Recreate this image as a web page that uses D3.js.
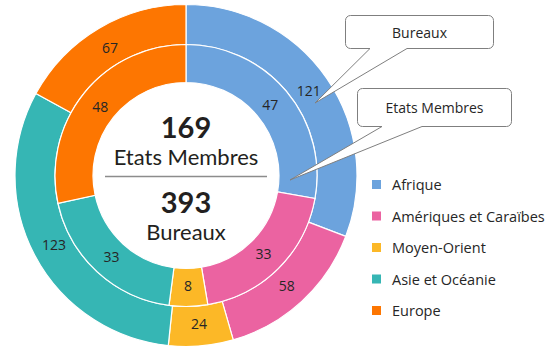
<!DOCTYPE html>
<html>
<head>
<meta charset="utf-8">
<script src="https://cdn.jsdelivr.net/npm/d3@7"></script>
<style>
  html, body { margin: 0; padding: 0; background: #fff; }
  svg { display: block; }
</style>
</head>
<body>
<svg id="chart" width="557" height="347"></svg>
<script>
// Regions, in drawing order (clockwise from 12 o'clock)
const regions = ["Afrique", "Amériques et Caraïbes", "Moyen-Orient", "Asie et Océanie", "Europe"];
const regionColors = ["#6ca3dd", "#eb63a1", "#fcb827", "#36b6b4", "#fd7601"];
// Inner ring: member states per region
const etatsMembres = [47, 33, 8, 33, 48];
// Outer ring: offices per region
const bureaux = [121, 58, 24, 123, 67];
// Centre captions
const centreLabels = ["Etats Membres", "Bureaux"];

const svg = d3.select("#chart");
const cx = 186, cy = 175.5;
const rHole = 93, rMid = 131, rOuter = 171;

const color = d3.scaleOrdinal().domain(regions).range(regionColors);
const pie = d3.pie().sort(null).value(d => d.value);

function ring(values, r0, r1, cls) {
  const data = regions.map((name, i) => ({ name, value: values[i] }));
  const arcs = pie(data);
  const arc = d3.arc().innerRadius(r0).outerRadius(r1);
  const g = svg.append("g").attr("class", cls).attr("transform", `translate(${cx},${cy})`);
  g.selectAll("path").data(arcs).join("path")
    .attr("d", arc)
    .attr("fill", d => color(d.data.name))
    .attr("stroke", "#fff")
    .attr("stroke-width", 1.2);
  const labelArc = d3.arc().innerRadius((r0 + r1) / 2 - 2).outerRadius((r0 + r1) / 2 - 2);
  g.selectAll("text").data(arcs).join("text")
    .attr("transform", d => `translate(${labelArc.centroid(d)})`)
    .attr("text-anchor", "middle")
    .attr("dominant-baseline", "central")
    .attr("font-family", "'Open Sans', sans-serif")
    .attr("font-size", 14)
    .attr("fill", "#262626")
    .text(d => d.data.value);
}

ring(bureaux, rMid, rOuter, "outer");
ring(etatsMembres, rHole, rMid, "inner");

// Centre totals
const totalEM = d3.sum(etatsMembres);
const totalB = d3.sum(bureaux);
const centre = svg.append("g").attr("transform", `translate(${cx},${cy})`)
  .attr("font-family", "Lato, sans-serif").attr("text-anchor", "middle").attr("fill", "#231f20");
centre.append("text").attr("y", -38).attr("font-size", 29).attr("font-weight", 700).text(totalEM);
centre.append("text").attr("y", -11).attr("font-size", 22).text(centreLabels[0]);
centre.append("line").attr("x1", -81).attr("x2", 81).attr("y1", 1).attr("y2", 1)
  .attr("stroke", "#8c8c8c").attr("stroke-width", 1.6);
centre.append("text").attr("y", 37).attr("font-size", 29).attr("font-weight", 700).text(totalB);
centre.append("text").attr("y", 64).attr("font-size", 22).text(centreLabels[1]);

// Callouts with pointers
function callout(x0, y0, x1, y1, bx0, bx1, tx, ty, label) {
  const r = 5;
  const p = d3.path();
  p.moveTo(x0 + r, y0);
  p.lineTo(x1 - r, y0);
  p.arcTo(x1, y0, x1, y0 + r, r);
  p.lineTo(x1, y1 - r);
  p.arcTo(x1, y1, x1 - r, y1, r);
  p.lineTo(bx1, y1);
  p.lineTo(tx, ty);
  p.lineTo(bx0, y1);
  p.lineTo(x0 + r, y1);
  p.arcTo(x0, y1, x0, y1 - r, r);
  p.lineTo(x0, y0 + r);
  p.arcTo(x0, y0, x0 + r, y0, r);
  p.closePath();
  svg.append("path").attr("d", p.toString())
    .attr("fill", "#fff").attr("stroke", "#7f7f7f").attr("stroke-width", 1);
  svg.append("text").attr("x", (x0 + x1) / 2).attr("y", (y0 + y1) / 2)
    .attr("text-anchor", "middle").attr("dominant-baseline", "central")
    .attr("font-family", "'Open Sans', sans-serif").attr("font-size", 14)
    .attr("fill", "#262626").text(label);
}
callout(345.5, 15.5, 493.5, 48.5, 370, 407, 315, 103, centreLabels[1]);
callout(357.5, 88.5, 511.5, 126.5, 382, 422, 290, 180, centreLabels[0]);

// Legend
const legend = svg.append("g").attr("transform", "translate(372,180)");
const rows = legend.selectAll("g").data(regions).join("g")
  .attr("transform", (d, i) => `translate(0,${i * 31.5})`);
rows.append("rect").attr("width", 9).attr("height", 9).attr("fill", d => color(d));
rows.append("text").attr("x", 20).attr("y", 4.5).attr("dominant-baseline", "central")
  .attr("font-family", "'Open Sans', sans-serif").attr("font-size", 14.5)
  .attr("fill", "#262626").text(d => d);
</script>
</body>
</html>
